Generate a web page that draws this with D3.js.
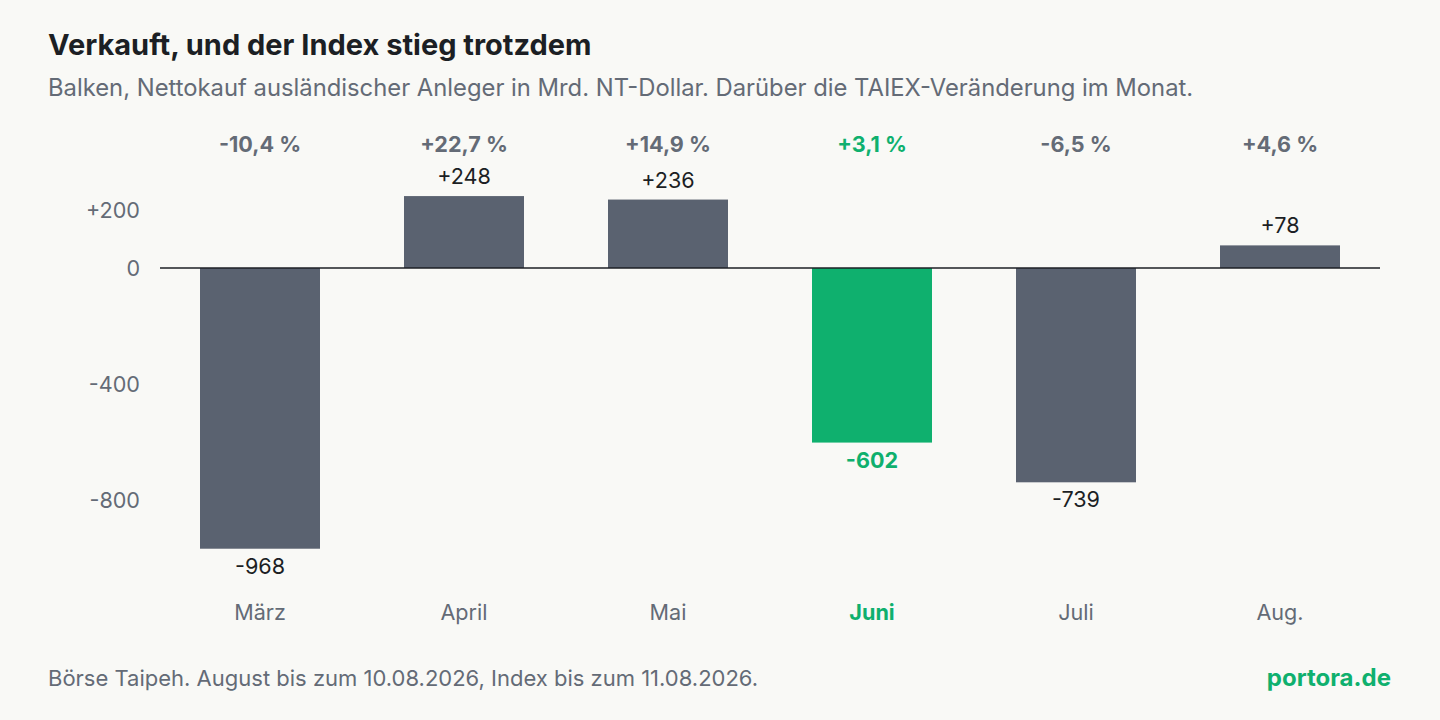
<!DOCTYPE html>
<html><head><meta charset="utf-8">
<script src="https://cdn.jsdelivr.net/npm/d3@7"></script>
<style>body{margin:0;background:#f9f9f6;font-family:Inter,"Noto Sans",sans-serif}</style>
</head><body><svg id="chart"></svg>
<script>
const months = ["März", "April", "Mai", "Juni", "Juli", "Aug."];
const netBuy = [-968, 248, 236, -602, -739, 78];
const taiex = ["-10,4 %", "+22,7 %", "+14,9 %", "+3,1 %", "-6,5 %", "+4,6 %"];
const yTicks = [200, 0, -400, -800];
const highlight = "Juni";

const W = 1440, H = 720;
const gray = "#5a6270", green = "#0fb06e", text = "#1c1f24", muted = "#646b76";

const svg = d3.select("#chart").attr("width", W).attr("height", H);
svg.append("rect").attr("width", W).attr("height", H).attr("fill", "#f9f9f6");

svg.append("text").attr("x", 48).attr("y", 55).attr("font-size", 29).attr("font-weight", 700)
    .attr("fill", text).text("Verkauft, und der Index stieg trotzdem");
svg.append("text").attr("x", 48).attr("y", 96).attr("font-size", 23.8).attr("fill", muted)
    .text("Balken, Nettokauf ausländischer Anleger in Mrd. NT-Dollar. Darüber die TAIEX-Veränderung im Monat.");

const x = d3.scalePoint().domain(months).range([260, 1280]);
const y = d3.scaleLinear().domain([0, -800]).range([268, 500]);
const bw = 120;

// y axis labels
svg.selectAll(".yt").data(yTicks).enter().append("text")
    .attr("x", 140).attr("y", d => y(d) + 8).attr("text-anchor", "end")
    .attr("font-size", 21.6).attr("fill", muted)
    .text(d => d > 0 ? "+" + d : d);

svg.selectAll(".bar").data(netBuy).enter().append("rect")
    .attr("x", (d, i) => x(months[i]) - bw / 2)
    .attr("y", d => Math.min(y(d), y(0)))
    .attr("width", bw)
    .attr("height", d => Math.abs(y(d) - y(0)))
    .attr("fill", (d, i) => months[i] === highlight ? green : gray);

svg.append("line").attr("x1", 160).attr("x2", 1380).attr("y1", y(0)).attr("y2", y(0))
    .attr("stroke", text).attr("stroke-width", 1.5);

// value labels
svg.selectAll(".val").data(netBuy).enter().append("text")
    .attr("x", (d, i) => x(months[i]))
    .attr("y", d => d >= 0 ? y(d) - 12 : y(d) + 25)
    .attr("text-anchor", "middle").attr("font-size", 21.6)
    .attr("font-weight", (d, i) => months[i] === highlight ? 700 : 400)
    .attr("fill", (d, i) => months[i] === highlight ? green : text)
    .text(d => d > 0 ? "+" + d : d);

// TAIEX change
svg.selectAll(".pct").data(taiex).enter().append("text")
    .attr("x", (d, i) => x(months[i])).attr("y", 152)
    .attr("text-anchor", "middle").attr("font-size", 21.6).attr("font-weight", 700)
    .attr("fill", (d, i) => months[i] === highlight ? green : muted)
    .text(d => d);

// month labels
svg.selectAll(".mon").data(months).enter().append("text")
    .attr("x", d => x(d)).attr("y", 620)
    .attr("text-anchor", "middle").attr("font-size", 21.6)
    .attr("font-weight", d => d === highlight ? 700 : 400)
    .attr("fill", d => d === highlight ? green : muted)
    .text(d => d);

svg.append("text").attr("x", 48).attr("y", 686).attr("font-size", 22).attr("fill", muted)
    .text("Börse Taipeh. August bis zum 10.08.2026, Index bis zum 11.08.2026.");
svg.append("text").attr("x", 1391).attr("y", 686).attr("text-anchor", "end")
    .attr("font-size", 24).attr("font-weight", 700).attr("fill", green).text("portora.de");
</script></body></html>
